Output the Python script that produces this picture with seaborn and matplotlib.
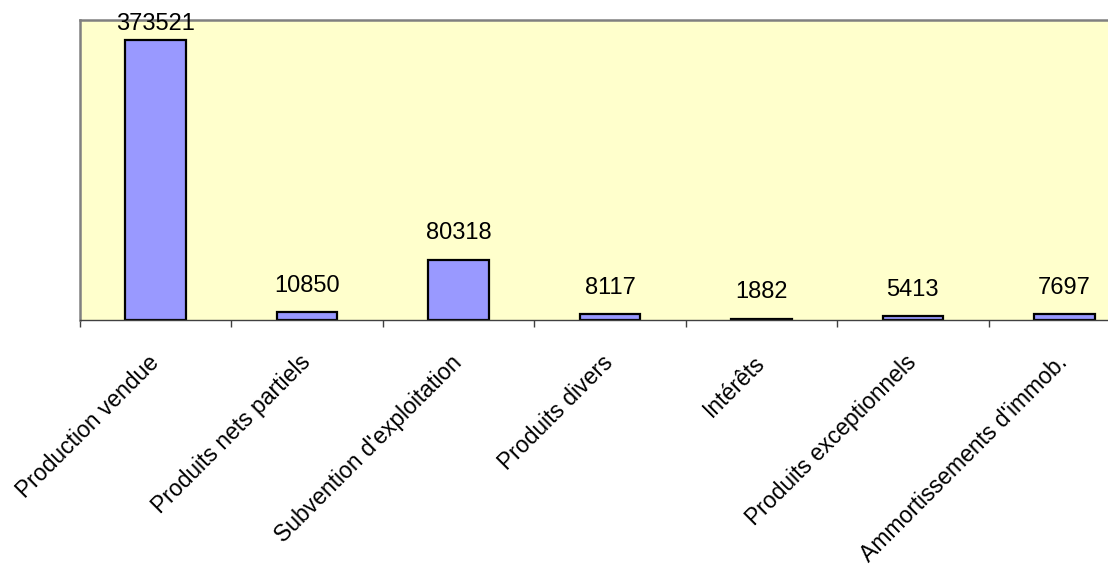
# produits.py
# Diagramme en barres des produits (valeurs annotées au-dessus des barres)

import numpy as np
import pandas as pd
import matplotlib
matplotlib.use('Agg')
import matplotlib.pyplot as plt
import seaborn as sns

categories = ["Production vendue", "Produits nets partiels", "Subvention d'exploitation",
              "Produits divers", "Intérêts", "Produits exceptionnels",
              "Ammortissements d'immob."]
valeurs = [373521, 10850, 80318, 8117, 1882, 5413, 7697]

sns.set_style('white')
plt.rcParams['font.family'] = ['Liberation Sans', 'DejaVu Sans']

df = pd.DataFrame({'categorie': categories, 'valeur': valeurs})

fig = plt.figure(figsize=(11.08, 5.70), dpi=100)
# la zone de tracé dépasse à droite, comme dans l'original
ax = fig.add_axes([80 / 1108, 250 / 570, 1060 / 1108, 300 / 570])
ax.set_facecolor('#FFFFCC')

sns.barplot(data=df, x='categorie', y='valeur', color='#9999FF', saturation=1,
            width=0.4, edgecolor='black', linewidth=1.6, ax=ax)

ax.set_xlim(-0.5, len(categories) - 0.5)
ax.set_ylim(0, 400000)
ax.set_xlabel('')
ax.set_ylabel('')
ax.set_yticks([])

# étiquettes de valeurs
vmax = max(valeurs)
for i, v in enumerate(valeurs):
    off = 3.5 if v == vmax else 11
    ax.annotate(str(v), (i, v), xytext=(0, off), textcoords='offset points',
                ha='center', va='bottom', fontsize=17, color='black')

# graduations entre les catégories
ax.set_xticks(np.arange(-0.5, len(categories)), minor=True)
ax.tick_params(axis='x', which='minor', length=5, width=1, color='#404040', direction='out', bottom=True)
ax.tick_params(axis='x', which='major', length=0, pad=28)
ax.set_xticks(range(len(categories)))
ax.set_xticklabels(categories, rotation=45, ha='right', va='center',
                   rotation_mode='anchor', fontsize=16.5, color='black')

for side in ['top', 'left', 'right']:
    ax.spines[side].set_color('#808080')
    ax.spines[side].set_linewidth(1.8)
ax.spines['bottom'].set_color('#404040')
ax.spines['bottom'].set_linewidth(1)

plt.savefig('out.png', dpi=100)
